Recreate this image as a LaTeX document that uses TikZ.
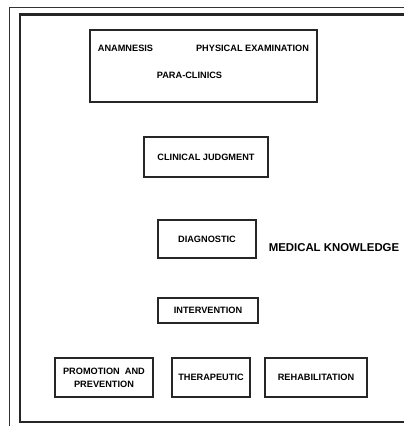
\documentclass[tikz,border=0pt]{standalone}
\usepackage{fontspec}
\setmainfont{Liberation Sans}
\begin{document}
\begin{tikzpicture}[x=1pt,y=-1pt,
  box/.style={draw=black!85, line width=1.8pt, rectangle, inner sep=0pt, align=center,
    font=\bfseries\fontsize{9.2}{13}\selectfont},
  lbl/.style={inner sep=0pt, font=\bfseries\fontsize{9.2}{11}\selectfont},
  frame/.style={draw=black!85, line width=2.4pt},
  thinframe/.style={draw=black!80, line width=0.9pt}]
\useasboundingbox (0,0) rectangle (404,426);
\clip (0,0) rectangle (404,426);
\fill[white] (0,0) rectangle (404,426);
% frames
\coordinate (tl) at (9,7);
\coordinate (tr) at (410,7);
\coordinate (bl) at (9,430);
\draw[thinframe] (bl) -- (tl) -- (tr);
\coordinate (ftl) at (20,14.5);
\coordinate (ftr) at (410,14.5);
\coordinate (fbl) at (20,422);
\coordinate (fbr) at (410,422);
\draw[frame] (ftr) -- (ftl) -- (fbl) -- (fbr);
% top box
\node[box, minimum width=227, minimum height=72] (data) at (203.5,66) {};
\node[lbl] (anam) at (125.5,48) {ANAMNESIS};
\node[lbl] (phys) at (252.5,48) {PHYSICAL EXAMINATION};
\node[lbl] (para) at (189.5,75) {PARA-CLINICS};
% chain
\node[box, minimum width=124, minimum height=40] (judg) at (206,157) {CLINICAL JUDGMENT};
\node[box, minimum width=98, minimum height=38] (diag) at (207,239) {DIAGNOSTIC};
\node[inner sep=0pt, font=\bfseries\fontsize{11.4}{13}\selectfont] (know) at (334,248) {MEDICAL KNOWLEDGE};
\node[box, minimum width=100, minimum height=25] (interv) at (208,310.5) {INTERVENTION};
\node[box, minimum width=98, minimum height=39] (prom) at (104,377.5) {PROMOTION\ \ AND\\PREVENTION};
\node[box, minimum width=78, minimum height=39] (ther) at (211,377.5) {THERAPEUTIC};
\node[box, minimum width=102, minimum height=39] (rehab) at (316,377.5) {REHABILITATION};
\end{tikzpicture}
\end{document}
